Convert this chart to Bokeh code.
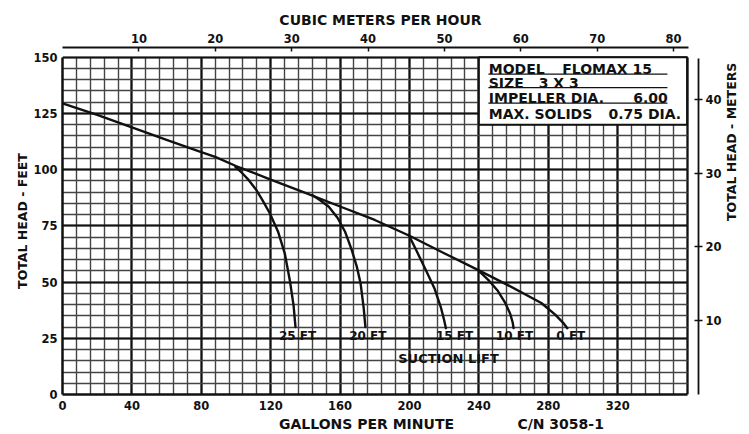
import math
from bokeh.plotting import figure
from bokeh.models import Range1d, LinearAxis, FixedTicker, SingleIntervalTicker, Label
from bokeh.core.properties import value
from bokeh.embed import file_html
from bokeh.resources import INLINE

# ---------------- data ----------------
gpm_ticks = [0, 40, 80, 120, 160, 200, 240, 280, 320]
head_ft_ticks = [0, 25, 50, 75, 100, 125, 150]
m3h_ticks = [10, 20, 30, 40, 50, 60, 70, 80]
head_m_ticks = [10, 20, 30, 40]

# 0 FT suction lift (main curve)
main_gpm = [0, 20, 40, 60, 80, 88, 100, 120, 140, 160, 180, 200, 220, 240, 257, 276, 284, 289, 291]
main_head = [129.5, 124.3, 118.8, 113.2, 107.8, 105.7, 101.6, 95.6, 89.7, 83.6, 77.6, 70.6, 62.8,
             55.2, 48.5, 40.7, 35.5, 31.5, 29.5]

lift25_gpm = [99.7, 103.5, 107.4, 111.5, 115, 119.5, 124.2, 128.2, 131.2, 133.2, 134.3]
lift25_head = [101.2, 98.5, 95.3, 91.2, 86.8, 80.6, 72.5, 62.5, 50.0, 39.5, 30.0]
lift20_gpm = [143.9, 148.5, 153.5, 158.5, 162.8, 166.6, 169.6, 171.8, 173.6, 174.6]
lift20_head = [88.7, 86.4, 83.5, 78.6, 72.5, 64.5, 57.0, 49.5, 38.5, 30.0]
lift15_gpm = [199.5, 204, 209, 214.5, 218, 220, 221]
lift15_head = [71.0, 64.0, 56.0, 47.0, 39.0, 33.0, 29.5]
lift10_gpm = [240, 246, 251, 255, 258, 259.5, 260]
lift10_head = [55.0, 50.5, 46.0, 41.0, 36.0, 32.0, 29.5]

lift_labels = ["25 FT", "20 FT", "15 FT", "10 FT", "0 FT"]
lift_label_gpm = [135.5, 176, 226, 260.5, 293]
lift_label_head = [26.2, 26.2, 26.2, 26.2, 26.2]

spec_keys = ["MODEL", "SIZE", "IMPELLER DIA.", "MAX. SOLIDS"]
spec_vals = ["FLOMAX 15", "3 X 3", "6.00", "0.75 DIA."]

x_title = "GALLONS PER MINUTE"
chart_code = "C/N 3058-1"
y_title = "TOTAL HEAD - FEET"
y2_title = "TOTAL HEAD - METERS"
x2_title = "CUBIC METERS PER HOUR"

GPM_PER_M3H = 4.403
FT_PER_M = 3.281

FONT = "DejaVu Sans"
INK = "#111111"
NB = "\u00a0"

X_MAX = 366.6
Y_MAX = 154.3

p = figure(width=749, height=434, output_backend="svg", toolbar_location=None,
           x_range=Range1d(0, X_MAX), y_range=Range1d(0, Y_MAX),
           min_border_left=62, min_border_right=51, min_border_top=47, min_border_bottom=39)
p.outline_line_color = None
p.background_fill_color = "white"
p.border_fill_color = "white"

p.extra_x_ranges = {"m3h": Range1d(0, X_MAX / GPM_PER_M3H)}
p.extra_y_ranges = {"m": Range1d(0, Y_MAX / FT_PER_M)}

def style_axis(ax):
    ax.minor_tick_line_color = None
    ax.axis_line_color = INK
    ax.major_tick_line_color = INK
    ax.major_tick_line_width = 1.5
    ax.major_label_text_font = FONT
    ax.major_label_text_font_style = "bold"
    ax.major_label_text_font_size = "11.5px"
    ax.major_label_text_color = INK
    ax.axis_label_text_font = FONT
    ax.axis_label_text_font_style = "bold"
    ax.axis_label_text_color = INK

# bottom axis (gallons per minute) + chart code
xa = p.xaxis[0]
style_axis(xa)
xa.ticker = FixedTicker(ticks=gpm_ticks)
xa.bounds = (0, 360)
xa.axis_line_width = 2.5
xa.major_tick_in = 0
xa.major_tick_out = 0
xa.major_label_standoff = 6
xa.axis_label = NB * 25 + x_title + NB * 13 + chart_code.replace(" ", NB)
xa.axis_label_text_font_size = "14px"
xa.axis_label_standoff = 3

# left axis (feet)
ya = p.yaxis[0]
style_axis(ya)
ya.ticker = FixedTicker(ticks=head_ft_ticks)
ya.bounds = (0, 150)
ya.axis_line_width = 2.5
ya.major_tick_in = 0
ya.major_tick_out = 0
ya.major_label_standoff = 5
ya.axis_label = y_title
ya.axis_label_text_font_size = "12.5px"
ya.axis_label_standoff = 0

# top axis (cubic meters per hour)
top = LinearAxis(x_range_name="m3h", ticker=FixedTicker(ticks=m3h_ticks), bounds=(0, 82),
                 axis_label=x2_title)
style_axis(top)
top.axis_line_width = 1.8
top.major_tick_in = 4
top.major_tick_out = 0
top.major_label_standoff = 5
top.axis_label_standoff = 3
top.axis_label_text_font_size = "14px"
p.add_layout(top, "above")

# right axis (meters)
right = LinearAxis(y_range_name="m", ticker=FixedTicker(ticks=head_m_ticks), bounds=(-0.7, 45.5),
                   axis_label=y2_title)
style_axis(right)
right.axis_line_width = 1.8
right.major_tick_in = 4
right.major_tick_out = 4
right.major_label_standoff = 3
right.axis_label_standoff = 7
right.axis_label_text_font_size = "12.5px"
if "axis_label_orientation" in LinearAxis.properties():
    right.axis_label_orientation = math.pi / 2
p.add_layout(right, "right")

# grids
p.xgrid.ticker = SingleIntervalTicker(interval=40, num_minor_ticks=5)
p.xgrid.bounds = (0, 360)
p.xgrid.cross_bounds = (0, 150)
p.ygrid.ticker = SingleIntervalTicker(interval=25, num_minor_ticks=5)
p.ygrid.bounds = (0, 150)
p.ygrid.cross_bounds = (0, 360)
for g in (p.xgrid, p.ygrid):
    g.grid_line_color = INK
    g.grid_line_width = 2.2
    g.minor_grid_line_color = "#444444"
    g.minor_grid_line_width = 1.4

# spec box
p.quad(left=[240], right=[360], bottom=[120], top=[150], fill_color="white",
       line_color=INK, line_width=2)
p.segment(x0=[245.5, 245.5, 245.5], y0=[142.5, 136.5, 129.6],
          x1=[348.7, 348.7, 348.7], y1=[142.5, 136.5, 129.6], line_color=INK, line_width=1.2)
spec_y = [144.7, 138.4, 131.8, 124.7]
p.text(x=[245.7] * 4, y=spec_y, text=spec_keys, text_font=value(FONT), text_font_style="bold",
       text_font_size="14px", text_color=INK, text_baseline="middle", text_align="left")
p.text(x=[288, 274.5, 329, 314.7], y=spec_y, text=spec_vals, text_font=value(FONT),
       text_font_style="bold", text_font_size="14px", text_color=INK,
       text_baseline="middle", text_align="left")

# curves
for xs, ys in [(main_gpm, main_head), (lift25_gpm, lift25_head), (lift20_gpm, lift20_head),
               (lift15_gpm, lift15_head), (lift10_gpm, lift10_head)]:
    p.line(xs, ys, line_color=INK, line_width=2.4, line_join="round", line_cap="round")

p.text(x=lift_label_gpm, y=lift_label_head, text=lift_labels, text_font=value(FONT),
       text_font_style="bold", text_font_size="12px", text_color=INK,
       text_baseline="middle", text_align="center")
p.add_layout(Label(x=222.5, y=16, text="SUCTION LIFT", text_font=FONT, text_font_style="bold",
                   text_font_size="13px", text_color=INK, text_align="center",
                   text_baseline="middle"))

open("out.html", "w").write(file_html(p, INLINE))
